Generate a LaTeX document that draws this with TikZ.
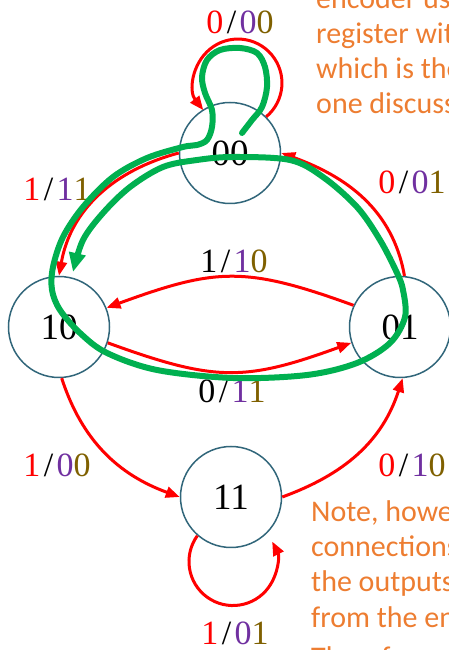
\documentclass[tikz,border=0pt]{standalone}
\usepackage{fontspec}
\setmainfont{Liberation Serif}
\newfontfamily\calfont{Carlito}
\usetikzlibrary{arrows.meta}
\definecolor{circ}{RGB}{49,102,122}
\definecolor{purp}{RGB}{112,48,160}
\definecolor{brn}{RGB}{127,96,0}
\definecolor{orng}{RGB}{237,125,49}
\definecolor{grn}{RGB}{0,176,80}
\newcommand\lbl[4]{{\color{#1}#2}\kern3.5pt/\kern3.5pt{\color{purp}#3}{\color{brn}#4}}
\begin{document}
\begin{tikzpicture}[x=1pt,y=1pt,
 state/.style={circle,draw=circ,line width=1.5pt,minimum size=101pt,inner sep=0pt,font=\fontsize{37}{40}\selectfont},
 redarr/.style={draw=red,line width=3pt,-{Triangle[length=14pt,width=11pt]}},
 grnarr/.style={draw=grn,line width=6pt,line cap=round,line join=round,-{Triangle[length=19pt,width=16pt]}},
 lab/.style={font=\fontsize{34}{38}\selectfont,inner sep=0pt},
 note/.style={font=\calfont\fontsize{30}{35}\selectfont,text=orng,anchor=base west,inner sep=0pt}]
\useasboundingbox (0,0) rectangle (449,650);
\clip (0,0) rectangle (449,650);

\node[state] (N00) at (230,497) {00};
\node[state] (N10) at (59,323) {10};
\node[state] (N01) at (400,323) {01};
\node[state] (N11) at (231,153) {11};

\node[lab] (L1) at (240,628) {\lbl{red}{0}{0}{0}};
\node[lab] (L2) at (57,461) {\lbl{red}{1}{1}{1}};
\node[lab] (L3) at (412,468) {\lbl{red}{0}{0}{1}};
\node[lab] (L4) at (234,389) {\lbl{black}{1}{1}{0}};
\node[lab] (L5) at (232,259) {\lbl{black}{0}{1}{1}};
\node[lab] (L6) at (57,185) {\lbl{red}{1}{0}{0}};
\node[lab] (L7) at (412,185) {\lbl{red}{0}{1}{0}};
\node[lab] (L8) at (235,17) {\lbl{red}{1}{0}{1}};

\draw[redarr] (N00.45) arc[start angle=-50,end angle=218,radius=44];
\draw[redarr] (N00.west) to[out=195,in=80] (N10.north);
\draw[redarr] (N01.85) to[out=100,in=-20] (N00.east);
\draw[redarr] (N01.155) to[out=160,in=20,looseness=1.2] (N10.22);
\draw[redarr] (N10.-18) to[out=-20,in=200,looseness=1.2] (N01.198);
\draw[redarr] (N10.-87) to[out=-72,in=160] (N11.west);
\draw[redarr] (N11.east) to[out=20,in=-108] (N01.-87);
\draw[redarr] (N11.229) arc[start angle=144,end angle=387,radius=44];

\draw[grnarr] plot[smooth,tension=0.55] coordinates {
(242,517) (252,530) (262,543) (267,563) (265,583) (257,597) (240,602)
(220,600) (207,590) (202,573) (205,557) (212,540) (212,523) (207,510)
(197,505) (183,503) (147,492) (113,473) (83,443) (63,413) (53,383)
(52,360) (60,340) (80,317) (107,297) (157,280) (233,272) (307,275)
(357,287) (390,307) (405,333) (403,360) (397,377) (380,410) (357,443)
(323,473) (290,490) (233,493) (197,490) (163,483) (130,463) (103,437)
(83,410) (73,378)};

\node[note] (t1) at (316,641) {encoder using};
\node[note] (t2) at (316,606) {register with};
\node[note] (t3) at (316,571) {which is the};
\node[note] (t4) at (316,536) {one discussed};
\node[note] (b1) at (311,128) {Note, however};
\node[note] (b2) at (311,93) {connections};
\node[note] (b3) at (311,58) {the outputs};
\node[note] (b4) at (311,23) {from the encoder};
\node[note] (b5) at (311,-17) {Therefore};
\end{tikzpicture}
\end{document}
